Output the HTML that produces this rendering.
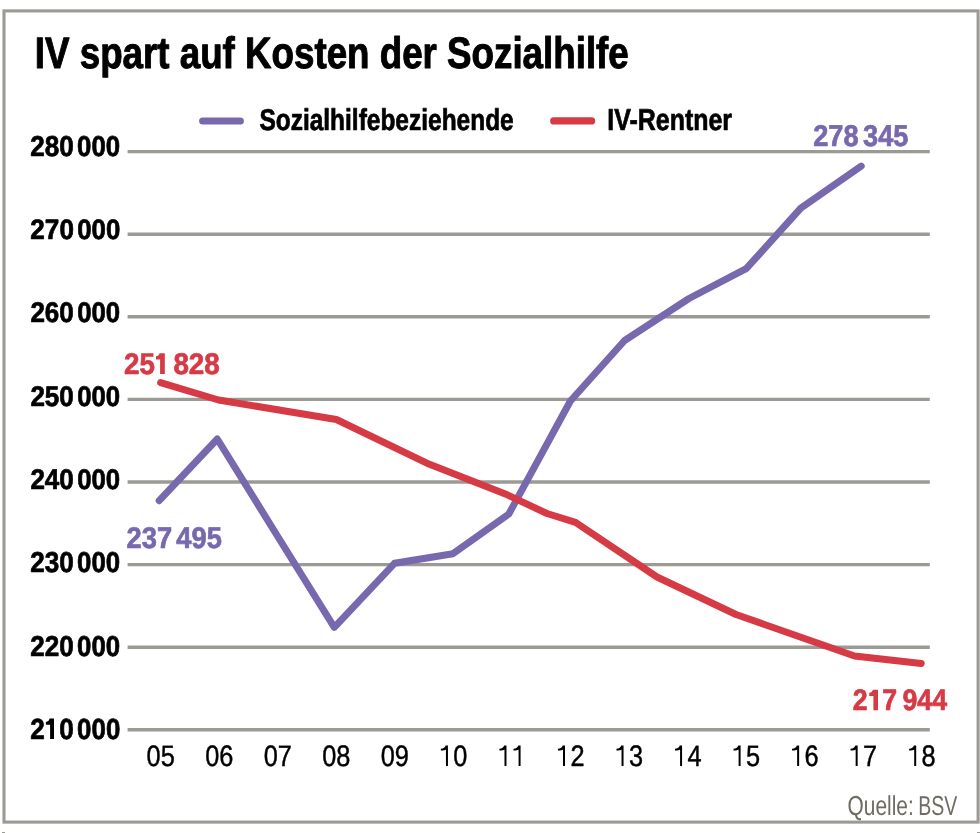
<!DOCTYPE html><html><head><meta charset="utf-8"><title>IV spart auf Kosten der Sozialhilfe</title>
<style>html,body{margin:0;padding:0;background:#fff;}body{width:980px;height:833px;overflow:hidden;}svg{display:block;will-change:transform;}text{font-family:"Liberation Sans",sans-serif;text-rendering:geometricPrecision;}</style></head><body>
<svg width="980" height="833" viewBox="0 0 980 833">
<rect x="0" y="0" width="980" height="833" fill="#fff"/>
<rect x="4" y="10.9" width="974.1" height="811.2" fill="none" stroke="#9c9a95" stroke-width="3.1"/>
<rect x="2" y="832" width="3" height="1" fill="#9c9a95"/>
<rect x="977" y="832" width="3" height="1" fill="#9c9a95"/>
<line x1="127.6" y1="151.6" x2="929.8" y2="151.6" stroke="#9c9a95" stroke-width="3.4"/>
<line x1="127.6" y1="234.2" x2="929.8" y2="234.2" stroke="#9c9a95" stroke-width="3.4"/>
<line x1="127.6" y1="316.8" x2="929.8" y2="316.8" stroke="#9c9a95" stroke-width="3.4"/>
<line x1="127.6" y1="399.4" x2="929.8" y2="399.4" stroke="#9c9a95" stroke-width="3.4"/>
<line x1="127.6" y1="482" x2="929.8" y2="482" stroke="#9c9a95" stroke-width="3.4"/>
<line x1="127.6" y1="564.6" x2="929.8" y2="564.6" stroke="#9c9a95" stroke-width="3.4"/>
<line x1="127.6" y1="647.2" x2="929.8" y2="647.2" stroke="#9c9a95" stroke-width="3.4"/>
<line x1="127.6" y1="729.8" x2="929.8" y2="729.8" stroke="#9c9a95" stroke-width="3.4"/>
<polyline points="159.2,500.7 217.3,439 276.8,535 334.3,627.4 394.5,563.3 453,553.7 508.8,514 570.4,401 624.6,340.5 689,298.5 746.2,268.7 800.8,208.2 861.2,166.1" fill="none" stroke="#7868ae" stroke-width="7" stroke-linejoin="round" stroke-linecap="round"/>
<polyline points="160.6,382.7 218.5,400 336.4,419.5 429.5,464.3 507.3,494.8 547,513.5 575.5,522.4 657,577 736,614.5 854.5,656 921.2,663.4" fill="none" stroke="#d63a45" stroke-width="7" stroke-linejoin="round" stroke-linecap="round"/>
<line x1="202.7" y1="121" x2="240.3" y2="121" stroke="#7868ae" stroke-width="7.2" stroke-linecap="round"/>
<line x1="553.7" y1="120.9" x2="591.6" y2="120.9" stroke="#d63a45" stroke-width="7.2" stroke-linecap="round"/>
<text x="34.79" y="68" font-size="44.06" fill="#000000" font-weight="bold" textLength="594" lengthAdjust="spacingAndGlyphs" stroke="#000000" stroke-width="1" stroke-linejoin="round">IV spart auf Kosten der Sozialhilfe</text>
<text x="259.39" y="130" font-size="30.1" fill="#000000" font-weight="bold" textLength="254.34" lengthAdjust="spacingAndGlyphs" stroke="#000000" stroke-width="0.7" stroke-linejoin="round">Sozialhilfebeziehende</text>
<text x="607.28" y="130" font-size="30.32" fill="#000000" font-weight="bold" textLength="124.76" lengthAdjust="spacingAndGlyphs" stroke="#000000" stroke-width="0.7" stroke-linejoin="round">IV-Rentner</text>
<text x="30.29" y="156" font-size="28.82" fill="#000000" font-weight="bold" textLength="43.51" lengthAdjust="spacingAndGlyphs" stroke="#000000" stroke-width="0.7" stroke-linejoin="round">280</text>
<text x="77.1" y="156" font-size="28.82" fill="#000000" font-weight="bold" textLength="43.02" lengthAdjust="spacingAndGlyphs" stroke="#000000" stroke-width="0.7" stroke-linejoin="round">000</text>
<text x="30.36" y="239" font-size="28.11" fill="#000000" font-weight="bold" textLength="43.55" lengthAdjust="spacingAndGlyphs" stroke="#000000" stroke-width="0.7" stroke-linejoin="round">270</text>
<text x="77.19" y="239" font-size="28.11" fill="#000000" font-weight="bold" textLength="43.06" lengthAdjust="spacingAndGlyphs" stroke="#000000" stroke-width="0.7" stroke-linejoin="round">000</text>
<text x="30.4" y="322" font-size="28.44" fill="#000000" font-weight="bold" textLength="43.44" lengthAdjust="spacingAndGlyphs" stroke="#000000" stroke-width="0.7" stroke-linejoin="round">260</text>
<text x="77.18" y="322" font-size="28.44" fill="#000000" font-weight="bold" textLength="42.95" lengthAdjust="spacingAndGlyphs" stroke="#000000" stroke-width="0.7" stroke-linejoin="round">000</text>
<text x="30.38" y="406" font-size="28.44" fill="#000000" font-weight="bold" textLength="43.44" lengthAdjust="spacingAndGlyphs" stroke="#000000" stroke-width="0.7" stroke-linejoin="round">250</text>
<text x="77.18" y="406" font-size="28.44" fill="#000000" font-weight="bold" textLength="42.95" lengthAdjust="spacingAndGlyphs" stroke="#000000" stroke-width="0.7" stroke-linejoin="round">000</text>
<text x="30.38" y="489" font-size="28.44" fill="#000000" font-weight="bold" textLength="43.44" lengthAdjust="spacingAndGlyphs" stroke="#000000" stroke-width="0.7" stroke-linejoin="round">240</text>
<text x="77.18" y="489" font-size="28.44" fill="#000000" font-weight="bold" textLength="42.95" lengthAdjust="spacingAndGlyphs" stroke="#000000" stroke-width="0.7" stroke-linejoin="round">000</text>
<text x="30.28" y="572" font-size="28.82" fill="#000000" font-weight="bold" textLength="43.51" lengthAdjust="spacingAndGlyphs" stroke="#000000" stroke-width="0.7" stroke-linejoin="round">230</text>
<text x="77.1" y="572" font-size="28.82" fill="#000000" font-weight="bold" textLength="43.02" lengthAdjust="spacingAndGlyphs" stroke="#000000" stroke-width="0.7" stroke-linejoin="round">000</text>
<text x="30.28" y="656" font-size="28.82" fill="#000000" font-weight="bold" textLength="43.51" lengthAdjust="spacingAndGlyphs" stroke="#000000" stroke-width="0.7" stroke-linejoin="round">220</text>
<text x="77.1" y="656" font-size="28.82" fill="#000000" font-weight="bold" textLength="43.02" lengthAdjust="spacingAndGlyphs" stroke="#000000" stroke-width="0.7" stroke-linejoin="round">000</text>
<text x="30.28" y="739" font-size="29.06" fill="#000000" font-weight="bold" textLength="43.65" lengthAdjust="spacingAndGlyphs" stroke="#000000" stroke-width="0.7" stroke-linejoin="round">2 0</text>
<text x="77.11" y="739" font-size="29.06" fill="#000000" font-weight="bold" textLength="43.16" lengthAdjust="spacingAndGlyphs" stroke="#000000" stroke-width="0.7" stroke-linejoin="round">000</text>
<text x="124.08" y="374" font-size="29.83" fill="#d63a45" font-weight="bold" textLength="46.36" lengthAdjust="spacingAndGlyphs" stroke="#d63a45" stroke-width="0.7" stroke-linejoin="round">25 </text>
<text x="173.42" y="374" font-size="29.83" fill="#d63a45" font-weight="bold" textLength="46.36" lengthAdjust="spacingAndGlyphs" stroke="#d63a45" stroke-width="0.7" stroke-linejoin="round">828</text>
<text x="126.54" y="548" font-size="29.87" fill="#7868ae" font-weight="bold" textLength="45.57" lengthAdjust="spacingAndGlyphs" stroke="#7868ae" stroke-width="0.7" stroke-linejoin="round">237</text>
<text x="176.37" y="548" font-size="29.87" fill="#7868ae" font-weight="bold" textLength="45.57" lengthAdjust="spacingAndGlyphs" stroke="#7868ae" stroke-width="0.7" stroke-linejoin="round">495</text>
<text x="813.23" y="146" font-size="30" fill="#7868ae" font-weight="bold" textLength="45.32" lengthAdjust="spacingAndGlyphs" stroke="#7868ae" stroke-width="0.7" stroke-linejoin="round">278</text>
<text x="863.1" y="146" font-size="30" fill="#7868ae" font-weight="bold" textLength="45.32" lengthAdjust="spacingAndGlyphs" stroke="#7868ae" stroke-width="0.7" stroke-linejoin="round">345</text>
<text x="852.63" y="710" font-size="29.61" fill="#d63a45" font-weight="bold" textLength="44.62" lengthAdjust="spacingAndGlyphs" stroke="#d63a45" stroke-width="0.7" stroke-linejoin="round">2 7</text>
<text x="902.41" y="710" font-size="29.61" fill="#d63a45" font-weight="bold" textLength="44.62" lengthAdjust="spacingAndGlyphs" stroke="#d63a45" stroke-width="0.7" stroke-linejoin="round">944</text>
<text x="146.6" y="766" font-size="29.6" fill="#000000" textLength="28.2" lengthAdjust="spacingAndGlyphs" stroke="#000000" stroke-width="0.45" stroke-linejoin="round">05</text>
<text x="205.13" y="766" font-size="29.6" fill="#000000" textLength="28.2" lengthAdjust="spacingAndGlyphs" stroke="#000000" stroke-width="0.45" stroke-linejoin="round">06</text>
<text x="263.66" y="766" font-size="29.6" fill="#000000" textLength="28.2" lengthAdjust="spacingAndGlyphs" stroke="#000000" stroke-width="0.45" stroke-linejoin="round">07</text>
<text x="322.19" y="766" font-size="29.6" fill="#000000" textLength="28.2" lengthAdjust="spacingAndGlyphs" stroke="#000000" stroke-width="0.45" stroke-linejoin="round">08</text>
<text x="380.72" y="766" font-size="29.6" fill="#000000" textLength="28.2" lengthAdjust="spacingAndGlyphs" stroke="#000000" stroke-width="0.45" stroke-linejoin="round">09</text>
<text x="439.25" y="766" font-size="29.6" fill="#000000" textLength="28.2" lengthAdjust="spacingAndGlyphs" stroke="#000000" stroke-width="0.45" stroke-linejoin="round"> 0</text>
<text x="497.78" y="766" font-size="29.6" fill="#000000" textLength="28.2" lengthAdjust="spacingAndGlyphs" stroke="#000000" stroke-width="0.45" stroke-linejoin="round">  </text>
<text x="556.31" y="766" font-size="29.6" fill="#000000" textLength="28.2" lengthAdjust="spacingAndGlyphs" stroke="#000000" stroke-width="0.45" stroke-linejoin="round"> 2</text>
<text x="614.84" y="766" font-size="29.6" fill="#000000" textLength="28.2" lengthAdjust="spacingAndGlyphs" stroke="#000000" stroke-width="0.45" stroke-linejoin="round"> 3</text>
<text x="673.37" y="766" font-size="29.6" fill="#000000" textLength="28.2" lengthAdjust="spacingAndGlyphs" stroke="#000000" stroke-width="0.45" stroke-linejoin="round"> 4</text>
<text x="731.9" y="766" font-size="29.6" fill="#000000" textLength="28.2" lengthAdjust="spacingAndGlyphs" stroke="#000000" stroke-width="0.45" stroke-linejoin="round"> 5</text>
<text x="790.43" y="766" font-size="29.6" fill="#000000" textLength="28.2" lengthAdjust="spacingAndGlyphs" stroke="#000000" stroke-width="0.45" stroke-linejoin="round"> 6</text>
<text x="848.96" y="766" font-size="29.6" fill="#000000" textLength="28.2" lengthAdjust="spacingAndGlyphs" stroke="#000000" stroke-width="0.45" stroke-linejoin="round"> 7</text>
<text x="907.49" y="766" font-size="29.6" fill="#000000" textLength="28.2" lengthAdjust="spacingAndGlyphs" stroke="#000000" stroke-width="0.45" stroke-linejoin="round"> 8</text>
<text x="847.54" y="815" font-size="27.42" fill="#6f6b63" textLength="66.15" lengthAdjust="spacingAndGlyphs">Quelle:</text>
<text x="918.2" y="815" font-size="27.42" fill="#6f6b63" textLength="39.11" lengthAdjust="spacingAndGlyphs">BSV</text>
<path d="M447.95,745.50 L445.65,745.50 C445.05,747.50 443.55,748.60 440.85,748.80 L440.85,750.50 C443.35,750.50 445.55,750.20 445.95,749.40 L445.95,766.10 L447.95,766.10 Z" fill="#000000"/>
<path d="M506.48,745.50 L504.18,745.50 C503.58,747.50 502.08,748.60 499.38,748.80 L499.38,750.50 C501.88,750.50 504.08,750.20 504.48,749.40 L504.48,766.10 L506.48,766.10 Z" fill="#000000"/>
<path d="M520.58,745.50 L518.28,745.50 C517.68,747.50 516.18,748.60 513.48,748.80 L513.48,750.50 C515.98,750.50 518.18,750.20 518.58,749.40 L518.58,766.10 L520.58,766.10 Z" fill="#000000"/>
<path d="M565.01,745.50 L562.71,745.50 C562.11,747.50 560.61,748.60 557.91,748.80 L557.91,750.50 C560.41,750.50 562.61,750.20 563.01,749.40 L563.01,766.10 L565.01,766.10 Z" fill="#000000"/>
<path d="M623.54,745.50 L621.24,745.50 C620.64,747.50 619.14,748.60 616.44,748.80 L616.44,750.50 C618.94,750.50 621.14,750.20 621.54,749.40 L621.54,766.10 L623.54,766.10 Z" fill="#000000"/>
<path d="M682.07,745.50 L679.77,745.50 C679.17,747.50 677.67,748.60 674.97,748.80 L674.97,750.50 C677.47,750.50 679.67,750.20 680.07,749.40 L680.07,766.10 L682.07,766.10 Z" fill="#000000"/>
<path d="M740.60,745.50 L738.30,745.50 C737.70,747.50 736.20,748.60 733.50,748.80 L733.50,750.50 C736.00,750.50 738.20,750.20 738.60,749.40 L738.60,766.10 L740.60,766.10 Z" fill="#000000"/>
<path d="M799.13,745.50 L796.83,745.50 C796.23,747.50 794.73,748.60 792.03,748.80 L792.03,750.50 C794.53,750.50 796.73,750.20 797.13,749.40 L797.13,766.10 L799.13,766.10 Z" fill="#000000"/>
<path d="M857.66,745.50 L855.36,745.50 C854.76,747.50 853.26,748.60 850.56,748.80 L850.56,750.50 C853.06,750.50 855.26,750.20 855.66,749.40 L855.66,766.10 L857.66,766.10 Z" fill="#000000"/>
<path d="M916.19,745.50 L913.89,745.50 C913.29,747.50 911.79,748.60 909.09,748.80 L909.09,750.50 C911.59,750.50 913.79,750.20 914.19,749.40 L914.19,766.10 L916.19,766.10 Z" fill="#000000"/>
<path d="M54.00,718.60 L49.60,718.60 C48.90,720.91 47.90,721.90 45.90,721.90 L45.90,724.80 L50.10,724.80 L50.10,738.90 L54.00,738.90 Z" fill="#000000"/>
<path d="M164.80,353.30 L159.60,353.30 C158.90,355.33 157.90,356.20 156.00,356.20 L156.00,359.60 L160.10,359.60 L160.10,373.90 L164.80,373.90 Z" fill="#d63a45"/>
<path d="M878.00,689.80 L872.90,689.80 C872.20,691.90 871.20,692.80 869.20,692.80 L869.20,696.10 L873.40,696.10 L873.40,710.30 L878.00,710.30 Z" fill="#d63a45"/>
</svg></body></html>
